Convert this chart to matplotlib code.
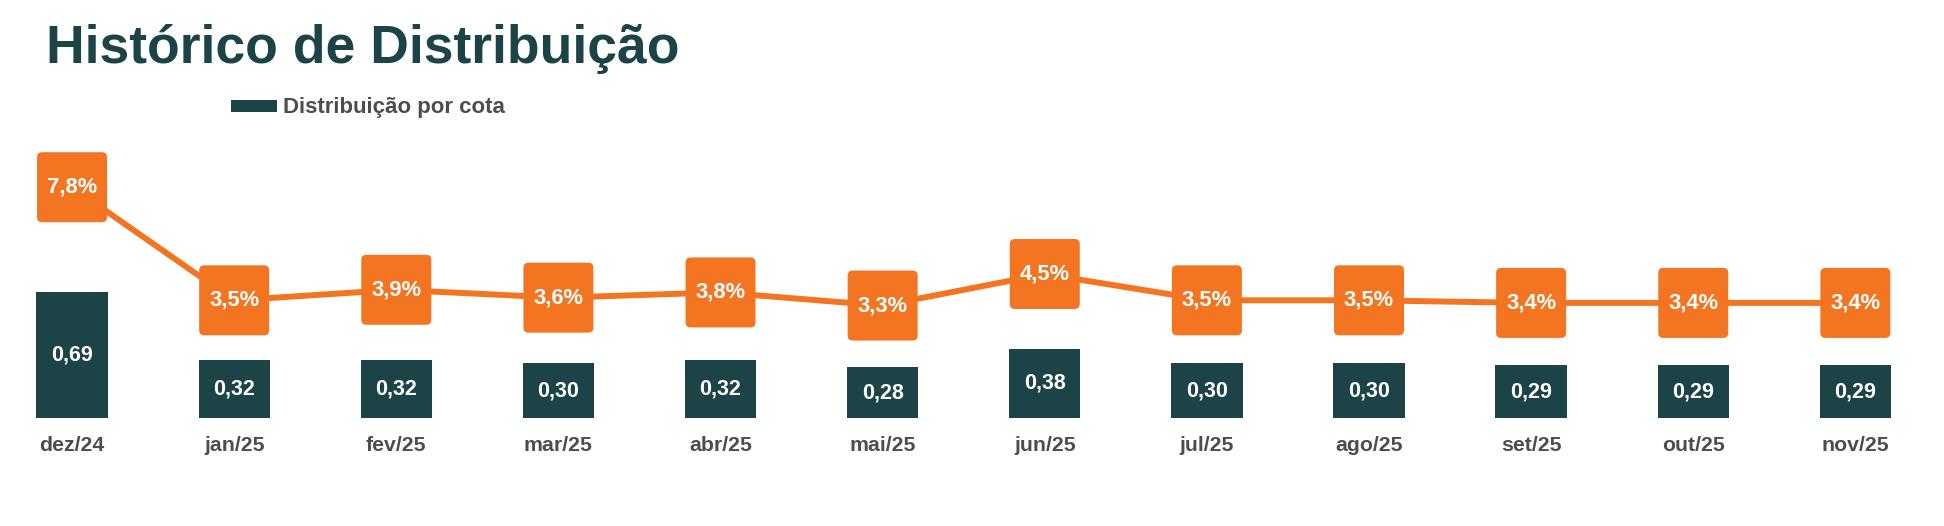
import matplotlib
matplotlib.use("Agg")
import matplotlib.pyplot as plt
import matplotlib.transforms as mtransforms
from matplotlib.patches import FancyBboxPatch

# dados do gráfico
meses = ["dez/24", "jan/25", "fev/25", "mar/25", "abr/25", "mai/25",
         "jun/25", "jul/25", "ago/25", "set/25", "out/25", "nov/25"]
distribuicao = [0.69, 0.32, 0.32, 0.30, 0.32, 0.28, 0.38, 0.30, 0.30, 0.29, 0.29, 0.29]
dividend_yield = [7.8, 3.5, 3.9, 3.6, 3.8, 3.3, 4.5, 3.5, 3.5, 3.4, 3.4, 3.4]

verde = "#1c4447"
laranja = "#f37521"
cinza = "#4d4d4d"

plt.rcParams["font.family"] = ["Liberation Sans", "DejaVu Sans"]
plt.rcParams["font.weight"] = "bold"

W, H = 1944, 526
fig = plt.figure(figsize=(W / 100, H / 100), dpi=100)

# eixo principal (barras)
left = 7.2 / W
width = 1913 / W
bottom = (H - 418) / H
height = 278 / H
ax = fig.add_axes([left, bottom, width, height])
x = list(range(len(meses)))

barras = ax.bar(x, distribuicao, width=0.44, color=verde, label="Distribuição por cota", zorder=2)
ax.set_xlim(-0.4, 11.4)
ax.set_ylim(0, 1.527)
for i, v in zip(x, distribuicao):
    ax.text(i, v / 2, f"{v:.2f}".replace(".", ","), ha="center", va="center",
            color="white", fontsize=15.5, fontweight="bold", zorder=3)

ax.set_xticks(x)
ax.set_xticklabels(meses, fontsize=15.3, fontweight="bold", color=cinza)
ax.tick_params(axis="x", length=0, pad=13)
ax.set_yticks([])
for s in ax.spines.values():
    s.set_visible(False)

# eixo secundário (linha)
ax2 = ax.twinx()
ax2.set_ylim(-0.975, 9.595)
ax2.plot(x, dividend_yield, color=laranja, lw=4.3, zorder=1, solid_capstyle="butt")
ax2.set_yticks([])
for s in ax2.spines.values():
    s.set_visible(False)

for i, v in zip(x, dividend_yield):
    trans = fig.dpi_scale_trans + mtransforms.ScaledTranslation(i, v, ax2.transData)
    caixa = FancyBboxPatch((-0.35, -0.35), 0.70, 0.70,
                           boxstyle="round,pad=0,rounding_size=0.05",
                           facecolor=laranja, edgecolor="none", transform=trans, zorder=3)
    ax2.add_patch(caixa)
    ax2.text(i, v, f"{v:.1f}%".replace(".", ","), ha="center", va="center",
             color="white", fontsize=15.8, fontweight="bold", zorder=4)

# título e legenda
fig.text(46 / W, 1 - 63 / H, "Histórico de Distribuição", fontsize=38.5,
         fontweight="bold", color=verde, va="baseline", ha="left")

fig.legend(handles=[barras], labels=["Distribuição por cota"], loc="center left",
           bbox_to_anchor=(211 / W, 1 - 108 / H), frameon=False,
           handlelength=2.05, handleheight=0.45, handletextpad=0.3,
           prop={"size": 16, "weight": "bold"}, labelcolor=cinza)

fig.savefig("out.png", dpi=100)
